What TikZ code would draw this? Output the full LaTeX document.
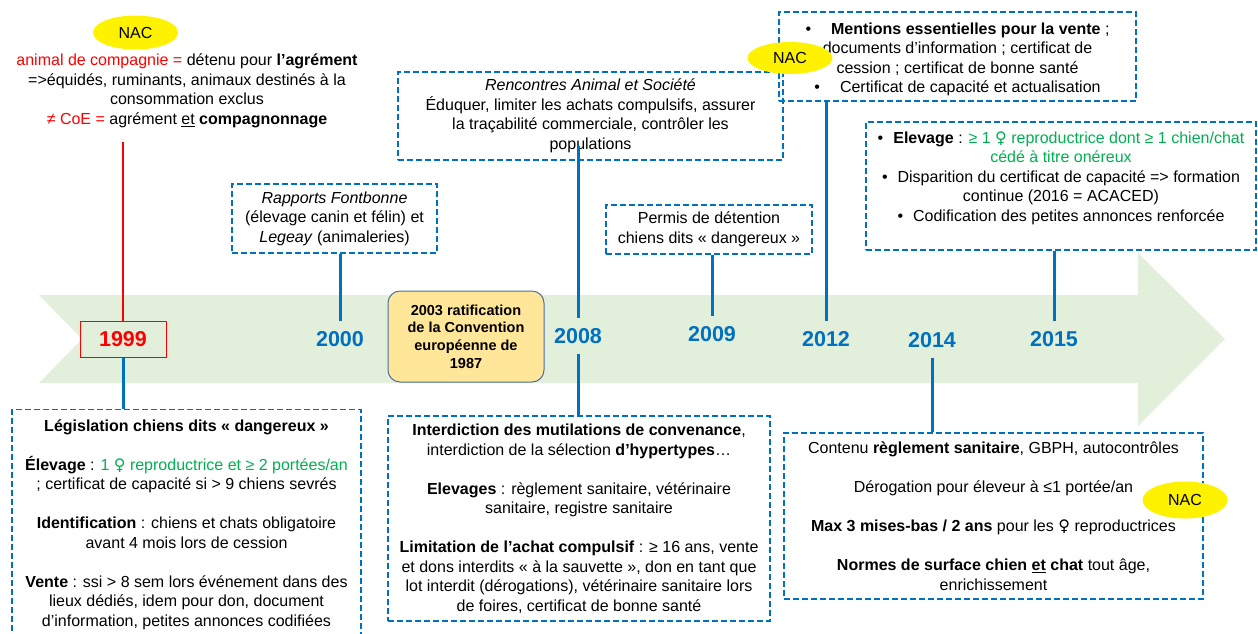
\documentclass[tikz,border=0pt]{standalone}
\usepackage{fontspec}
\setmainfont{Liberation Sans}
\newfontfamily\symfont{DejaVu Sans}
\usetikzlibrary{shapes.geometric}
\definecolor{bleu}{HTML}{0070C0}
\definecolor{vert}{HTML}{00B050}
\definecolor{fleche}{HTML}{E2EFDA}
\definecolor{sable}{HTML}{FFE699}
\definecolor{bord}{HTML}{4A6FA0}
\def\fem{{\symfont ♀}}
\def\vert#1{{\color{vert}#1}}

\begin{document}
\begin{tikzpicture}[x=1pt,y=-1pt,
	cadre/.style={draw=bleu,dash pattern=on 6pt off 3pt,line width=1.5pt,align=center,inner sep=0pt,font=\fontsize{16}{19.5}\selectfont},
	annee/.style={text=bleu,font=\fontsize{21.5}{24}\selectfont\bfseries,inner sep=10pt},
	trait/.style={draw=bleu,line width=3pt},
	nac/.style={ellipse,fill=yellow,minimum width=85pt,minimum height=34pt,inner sep=0pt,font=\fontsize{16}{19}\selectfont}]
\useasboundingbox (0,0) rectangle (1258,633);
% fleche du temps
\fill[fleche] (39,295) -- (1138,295) -- (1138,253) -- (1225,339) -- (1138,426) -- (1138,383) -- (39,383) -- (82,339) -- cycle;
%
\node[draw=red,line width=1pt,text=red,font=\fontsize{21.5}{24}\selectfont\bfseries,minimum width=86pt,minimum height=36pt,inner sep=0pt] (y1999) at (123,339) {1999};
\foreach \an/\x/\y in {2000/340/339,2008/578/336,2009/712/334,2012/826/339,2014/932/340,2015/1054/339}{
	\node[annee] (y\an) at (\x,\y) {\an};
}
\node[draw=bord,fill=sable,rounded corners=12pt,line width=1pt,minimum width=156pt,minimum height=91pt,align=center,inner sep=0pt,font=\fontsize{14.5}{17.6}\selectfont\bfseries] (conv) at (466,336.5) {2003 ratification\\de la Convention\\européenne de\\1987};
%
% en haut
\node[align=center,inner sep=0pt,font=\fontsize{16}{19.5}\selectfont] (def) at (187,91) {{\color{red}animal de compagnie =} détenu pour \textbf{l’agrément}\\
=>équidés, ruminants, animaux destinés à la\\
consommation exclus\\
{\color{red}≠ CoE =} agrément \underline{et} \textbf{compagnonnage}};
\node[cadre,minimum width=205pt,minimum height=69pt] (bFont) at (334.5,218.5) {\textit{Rapports Fontbonne}\\(élevage canin et félin) et\\\textit{Legeay} (animaleries)};
\node[cadre,minimum width=385pt,minimum height=88pt] (bRenc) at (590.5,116) {\textit{Rencontres Animal et Société}\\Éduquer, limiter les achats compulsifs, assurer\\la traçabilité commerciale, contrôler les\\populations};
\node[cadre,minimum width=206pt,minimum height=49pt] (bPermis) at (709,229.5) {Permis de détention\\chiens dits « dangereux »};
\node[cadre,minimum width=357pt,minimum height=89pt] (bMent) at (957.5,56.5) {\rule{0pt}{17.7pt}•\hspace{20pt}\textbf{Mentions essentielles pour la vente} ;\\documents d’information ; certificat de\\cession ; certificat de bonne santé\\•\hspace{20pt}Certificat de capacité et actualisation};
\node[cadre,minimum width=390pt,minimum height=128pt] (b2015) at (1061,186) {•\hspace{10pt}\textbf{Elevage} : \vert{≥ 1 \fem{} reproductrice dont ≥ 1 chien/chat}\\\vert{cédé à titre onéreux}\\•\hspace{10pt}Disparition du certificat de capacité => formation\\continue (2016 = ACACED)\\•\hspace{10pt}Codification des petites annonces renforcée\\\mbox{}};
%
% en bas
\node[cadre,minimum width=349pt,minimum height=230pt] (bLeg) at (186.5,524.5) {\textbf{Législation chiens dits « dangereux »}\\[19.5pt]
\textbf{Élevage} : \vert{1 \fem{} reproductrice et ≥ 2 portées/an}\\; certificat de capacité si > 9 chiens sevrés\\[19.5pt]
\textbf{Identification} : chiens et chats obligatoire\\avant 4 mois lors de cession\\[19.5pt]
\textbf{Vente} : ssi > 8 sem lors événement dans des\\lieux dédiés, idem pour don, document\\d’information, petites annonces codifiées};
\node[cadre,minimum width=382pt,minimum height=205pt] (bInter) at (579,518.5) {\textbf{Interdiction des mutilations de convenance},\\interdiction de la sélection \textbf{d’hypertypes}…\\[19.5pt]
\textbf{Elevages} : règlement sanitaire, vétérinaire\\sanitaire, registre sanitaire\\[19.5pt]
\textbf{Limitation de l’achat compulsif} : ≥ 16 ans, vente\\et dons interdits « à la sauvette », don en tant que\\lot interdit (dérogations), vétérinaire sanitaire lors\\de foires, certificat de bonne santé};
\node[cadre,minimum width=419pt,minimum height=166pt] (bCont) at (993.5,516) {Contenu \textbf{règlement sanitaire}, GBPH, autocontrôles\\[19.5pt]
Dérogation pour éleveur à ≤1 portée/an\\[19.5pt]
\textbf{Max 3 mises-bas / 2 ans} pour les \fem{} reproductrices\\[19.5pt]
\textbf{Normes de surface chien \underline{et} chat} tout âge,\\enrichissement};
%
% traits
\draw[red,line width=2.5pt] ([yshift=-14pt]def.south -| y1999) -- (y1999.north);
\draw[trait] (y1999.south) -- (bLeg.north -| y1999);
\draw[trait] (bFont.south -| y2000) -- (y2000.north);
\draw[trait] ([yshift=15pt]bRenc.south -| y2008) -- (y2008.north);
\draw[trait] (y2008.south) -- (bInter.north -| y2008);
\draw[trait] (bPermis.south -| y2009) -- (y2009.north);
\draw[trait] (bMent.south -| y2012) -- (y2012.north);
\draw[trait] (y2014.south) -- (bCont.north -| y2014);
\draw[trait] (b2015.south -| y2015) -- (y2015.north);
%
\node[nac] (nac1) at (135.5,32.5) {NAC};
\node[nac,minimum height=32pt] (nac2) at (790,58) {NAC};
\node[nac,minimum height=37pt] (nac3) at (1185,500) {NAC};
\end{tikzpicture}
\end{document}
